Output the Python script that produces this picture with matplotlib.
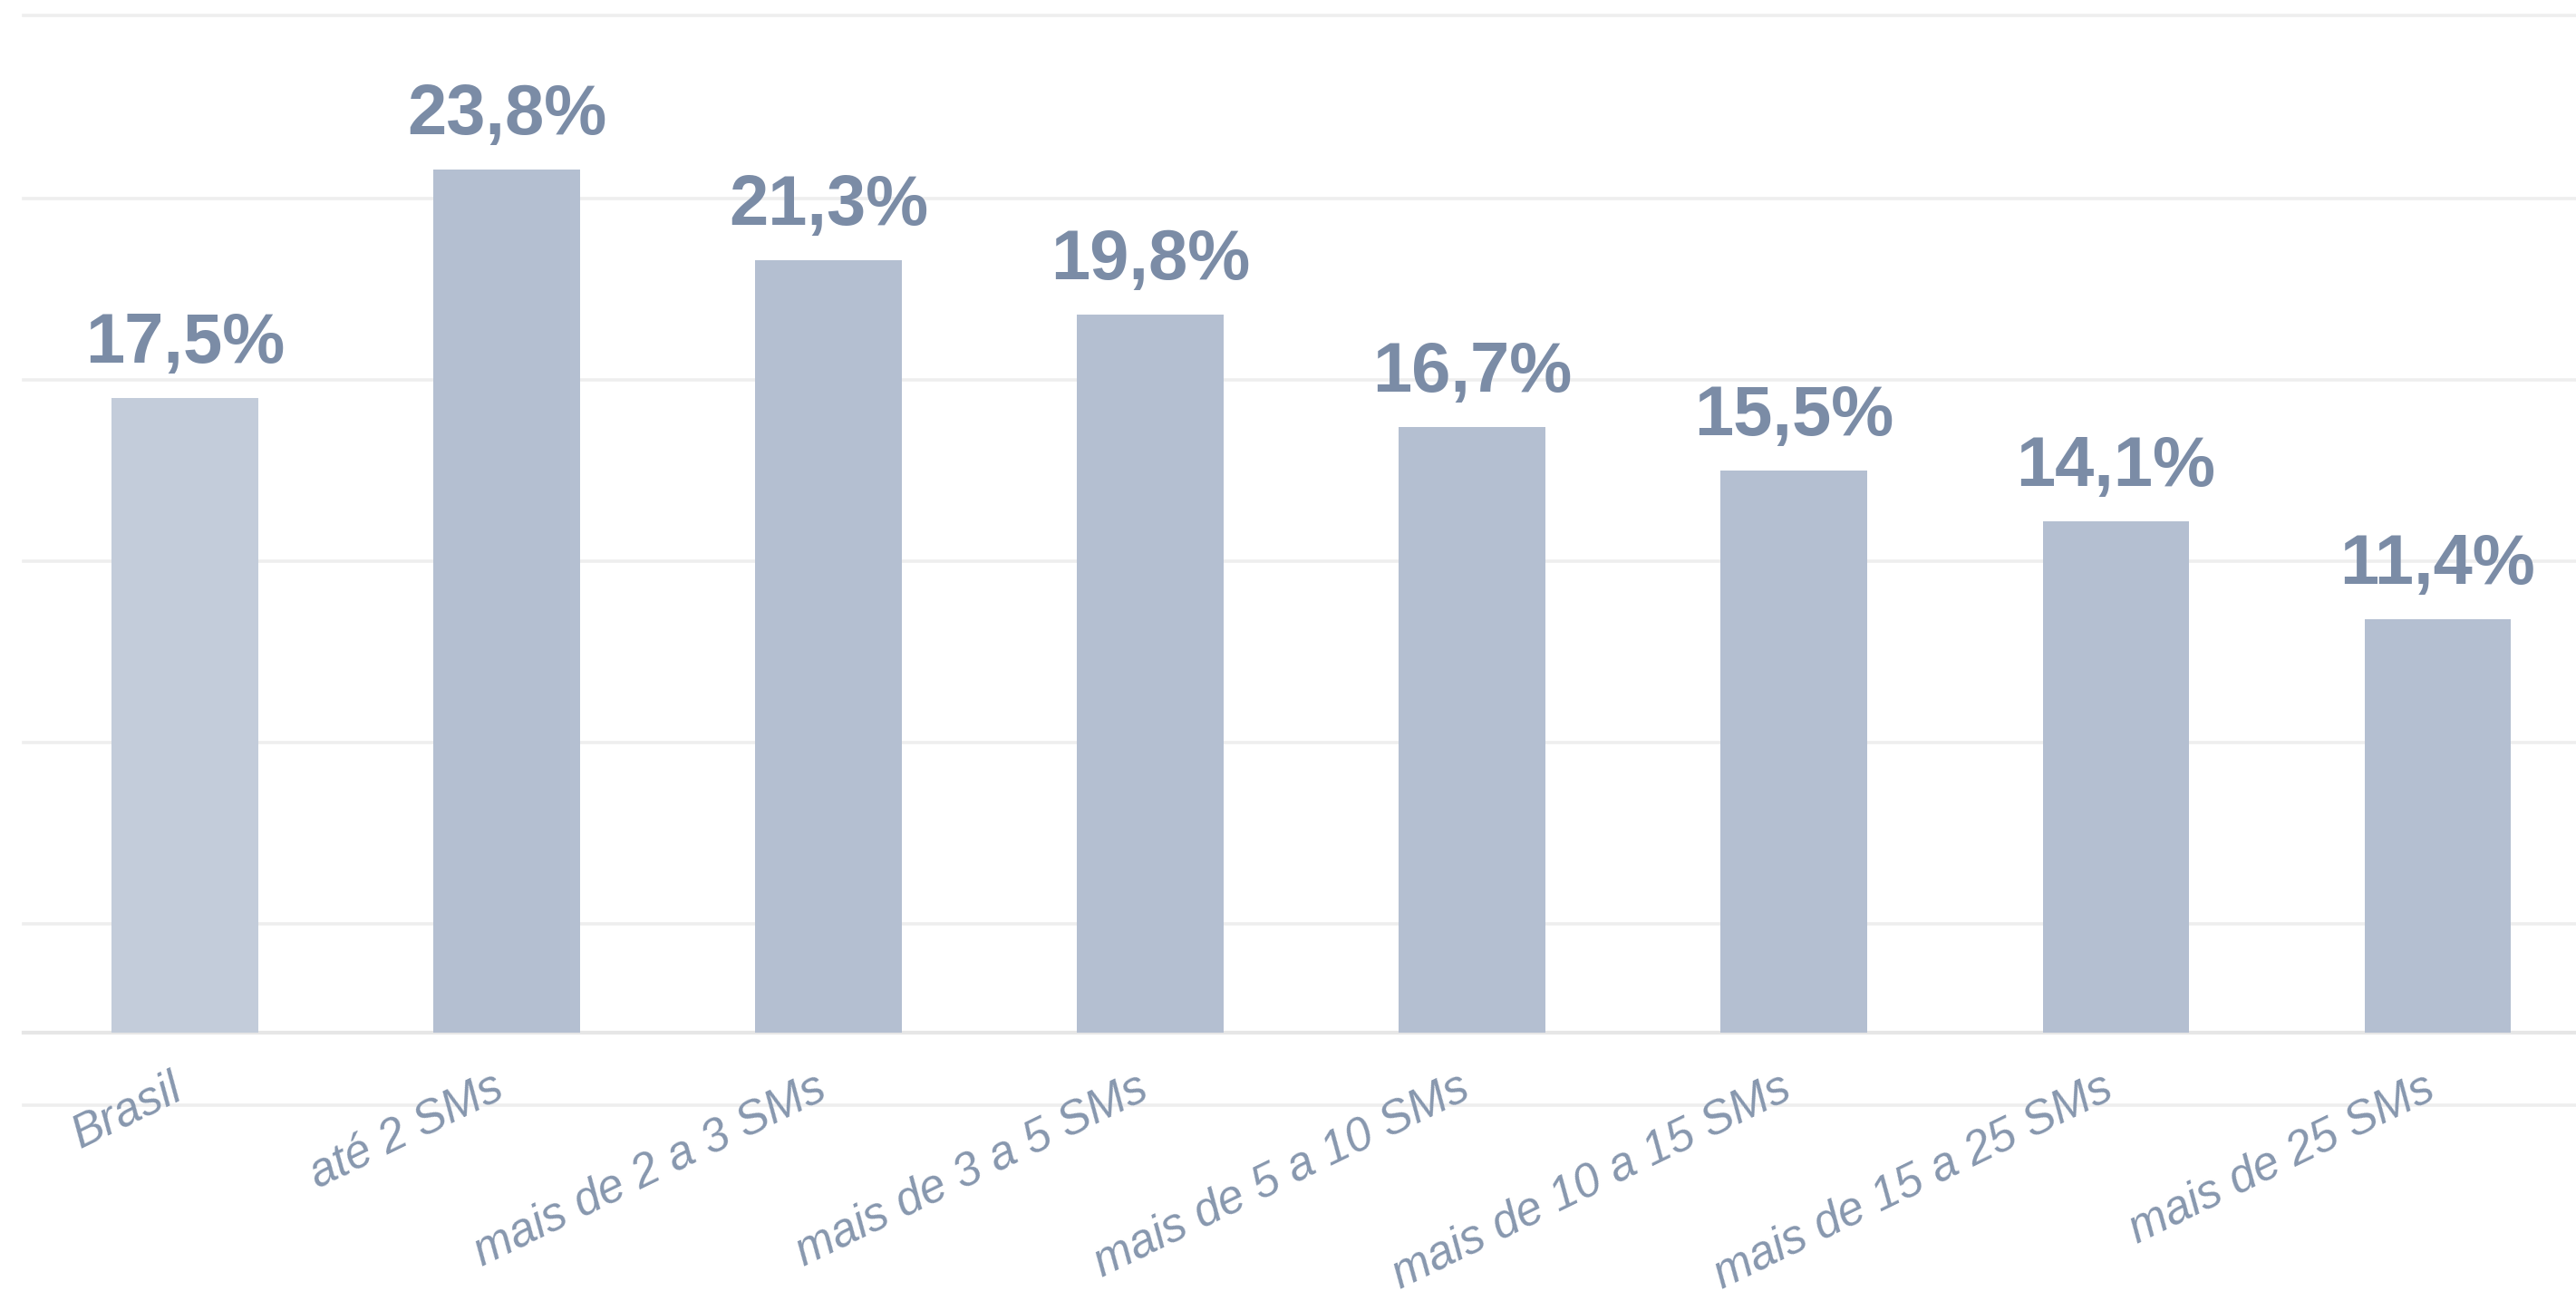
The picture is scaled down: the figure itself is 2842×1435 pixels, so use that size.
import matplotlib
matplotlib.use("Agg")
import matplotlib.pyplot as plt

categories = ["Brasil", "até 2 SMs", "mais de 2 a 3 SMs", "mais de 3 a 5 SMs",
              "mais de 5 a 10 SMs", "mais de 10 a 15 SMs", "mais de 15 a 25 SMs",
              "mais de 25 SMs"]
values = [17.5, 23.8, 21.3, 19.8, 16.7, 15.5, 14.1, 11.4]
value_labels = ["17,5%", "23,8%", "21,3%", "19,8%", "16,7%", "15,5%", "14,1%", "11,4%"]
grid_levels = [-2, 3, 8, 13, 18, 23, 28.05]

bar_colors = ["#c3ccda"] + ["#b4bfd1"] * 7
label_color = "#7b8ca6"
tick_color = "#8797ae"

plt.rcParams["font.family"] = ["Liberation Sans", "DejaVu Sans"]

fig = plt.figure(figsize=(28.42, 14.35), dpi=100)
ax = fig.add_axes([0.00932, 0.2063, 0.99068, 0.7861])
ax.set_xlim(-0.5, 7.43)
ax.set_ylim(0, 28.2)

for g in grid_levels:
    ax.axhline(g, color="#eeeeee", lw=2.6, zorder=0, clip_on=False)
ax.axhline(0, color="#e6e6e6", lw=3, zorder=0.5, clip_on=False)

x = list(range(len(categories)))
bars = ax.bar(x, values, width=0.455, color=bar_colors, zorder=2)

for xi, v, lab in zip(x, values, value_labels):
    ax.annotate(lab, (xi, v), xytext=(0, 28), textcoords="offset points",
                ha="center", va="baseline", fontsize=56, fontweight="bold",
                color=label_color)

ax.set_xticks(x)
ax.set_xticklabels(categories, rotation=26, ha="right", va="baseline",
                   rotation_mode="anchor", fontsize=37, style="italic",
                   color=tick_color)
ax.tick_params(axis="x", length=0, pad=51)
ax.set_yticks([])
for s in ax.spines.values():
    s.set_visible(False)

fig.savefig("out.png", dpi=100, facecolor="white")
